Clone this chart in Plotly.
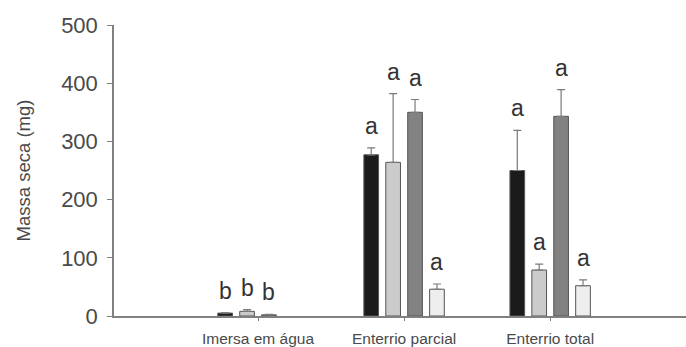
import plotly.graph_objects as go

categories = ["Imersa em água", "Enterrio parcial", "Enterrio total"]
series_names = ["S1", "S2", "S3", "S4"]
colors = ["#1b1b1b", "#cbcbcb", "#828282", "#eeeeee"]
values = [
    [5, 277, 250],
    [8, 264, 79],
    [2, 350, 343],
    [None, 46, 52],
]
errors = [
    [1, 12, 69],
    [3, 118, 10],
    [1, 22, 46],
    [0, 9, 10],
]
letters = [
    ["b", "a", "a"],
    ["b", "a", "a"],
    ["b", "a", "a"],
    [None, "a", "a"],
]

fig = go.Figure()
for s in range(4):
    fig.add_trace(go.Bar(
        x=categories, y=values[s], name=series_names[s],
        marker=dict(color=colors[s], line=dict(color="#555555", width=1)),
        error_y=dict(type="data", array=errors[s], symmetric=False,
                     arrayminus=[0, 0, 0], color="#7a7a7a", thickness=1.2, width=4),
        showlegend=False,
    ))

ann = []
for s in range(4):
    for c in range(3):
        if letters[s][c] is None:
            continue
        top = values[s][c] + errors[s][c]
        ann.append(dict(
            x=c + (s - 1.5) * 0.15, y=top, xref="x", yref="y",
            text=letters[s][c], showarrow=False, yanchor="bottom", yshift=7,
            font=dict(family="Liberation Sans, Arial", size=23, color="#333333"),
        ))

fig.update_layout(
    width=686, height=347,
    margin=dict(l=114, r=0, t=25, b=22),
    paper_bgcolor="white", plot_bgcolor="white",
    barmode="group", bargap=0.4, bargroupgap=0.33,
    annotations=ann,
    font=dict(family="Liberation Sans, Arial", color="#4a4a4a"),
    xaxis=dict(
        type="category", range=[-0.986, 2.93],
        showline=True, linecolor="#808080", linewidth=1.5,
        ticks="outside", ticklen=3, tickcolor="#808080",
        tickfont=dict(size=15.5, color="#4a4a4a"),
        ticklabelstandoff=5,
        showgrid=False, zeroline=False,
    ),
    yaxis=dict(
        range=[0, 500], tickvals=[0, 100, 200, 300, 400, 500],
        showline=True, linecolor="#808080", linewidth=1.5,
        ticks="outside", ticklen=5, tickcolor="#808080",
        tickfont=dict(size=22, color="#4a4a4a"),
        ticklabelstandoff=5,
        showgrid=False, zeroline=False,
        title=dict(text="Massa seca (mg)", font=dict(size=18.5, color="#4a4a4a"), standoff=26),
    ),
)

fig.write_html("out.html", config={"displayModeBar": False},
               post_script="document.body.style.margin='0';document.body.style.overflow='hidden';")
